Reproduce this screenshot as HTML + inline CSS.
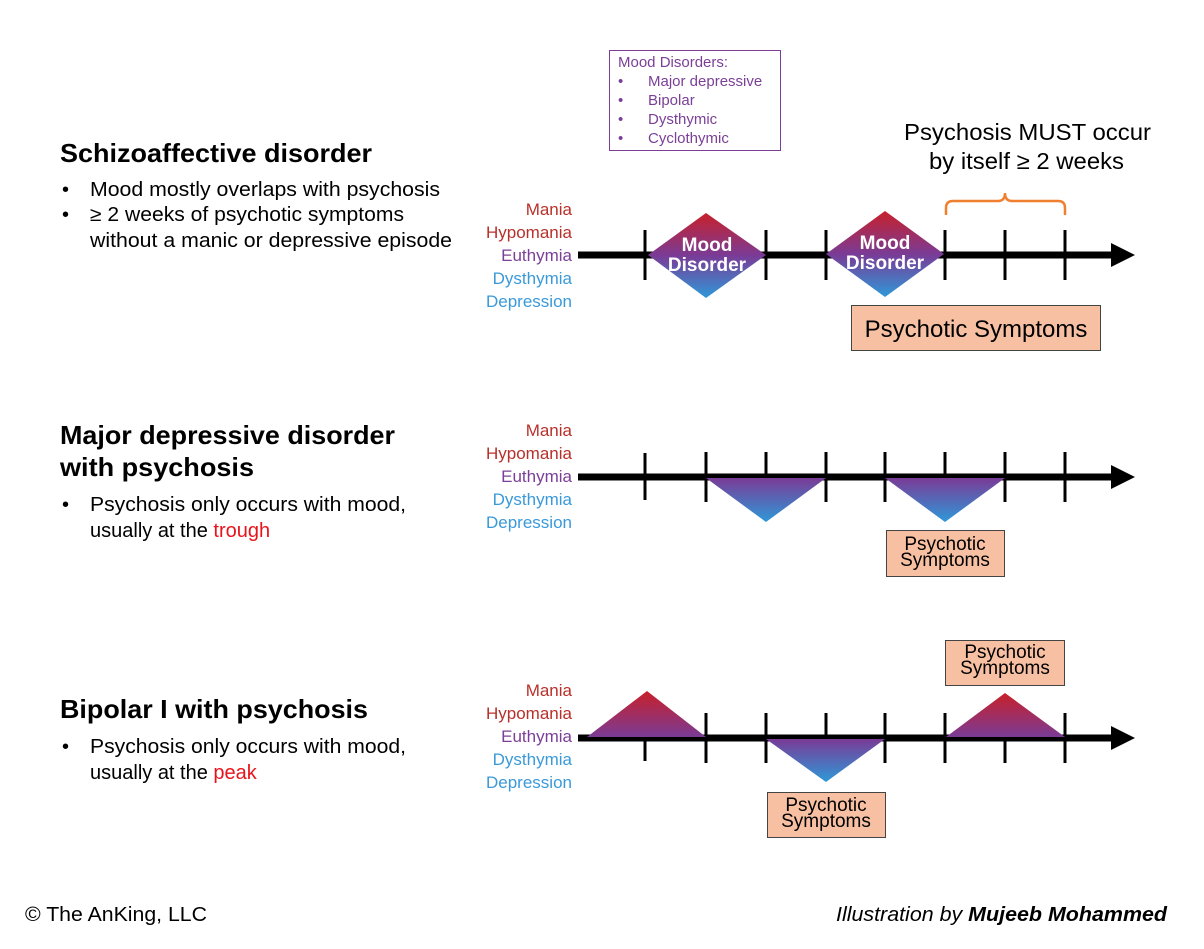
<!DOCTYPE html>
<html><head><meta charset="utf-8"><style>
html,body{margin:0;padding:0;background:#fff;}
svg{display:block;font-family:"Liberation Sans",Arial,sans-serif;}
</style></head><body>
<svg width="1204" height="949" viewBox="0 0 1204 949" xmlns="http://www.w3.org/2000/svg">
<defs>
<linearGradient id="gd" x1="0" y1="0" x2="0" y2="1">
<stop offset="0" stop-color="#c8202a"/><stop offset="0.5" stop-color="#7a3b96"/><stop offset="1" stop-color="#2f98d8"/></linearGradient>
<linearGradient id="gu" x1="0" y1="0" x2="0" y2="1">
<stop offset="0" stop-color="#c8202a"/><stop offset="1" stop-color="#7a3b96"/></linearGradient>
<linearGradient id="gdn" x1="0" y1="0" x2="0" y2="1">
<stop offset="0" stop-color="#7a3b96"/><stop offset="1" stop-color="#2f98d8"/></linearGradient>
</defs>

<g fill="#000" lengthAdjust="spacingAndGlyphs">
<text x="60" y="162" font-size="26" font-weight="bold" textLength="312" lengthAdjust="spacingAndGlyphs">Schizoaffective disorder</text>
<text x="62" y="196" font-size="20">•</text><text x="90" y="196" font-size="20" textLength="350" lengthAdjust="spacingAndGlyphs">Mood mostly overlaps with psychosis</text>
<text x="62" y="221" font-size="20">•</text><text x="90" y="221" font-size="20" textLength="314" lengthAdjust="spacingAndGlyphs">≥ 2 weeks of psychotic symptoms</text>
<text x="90" y="247" font-size="20" textLength="362" lengthAdjust="spacingAndGlyphs">without a manic or depressive episode</text>

<text x="60" y="444" font-size="26" font-weight="bold" textLength="335" lengthAdjust="spacingAndGlyphs">Major depressive disorder</text>
<text x="60" y="476" font-size="26" font-weight="bold" textLength="194" lengthAdjust="spacingAndGlyphs">with psychosis</text>
<text x="62" y="511" font-size="20">•</text><text x="90" y="511" font-size="20" textLength="316" lengthAdjust="spacingAndGlyphs">Psychosis only occurs with mood,</text>
<text x="90" y="537" font-size="20">usually at the <tspan fill="#e8141c">trough</tspan></text>

<text x="60" y="718" font-size="26" font-weight="bold" textLength="308" lengthAdjust="spacingAndGlyphs">Bipolar I with psychosis</text>
<text x="62" y="753" font-size="20">•</text><text x="90" y="753" font-size="20" textLength="316" lengthAdjust="spacingAndGlyphs">Psychosis only occurs with mood,</text>
<text x="90" y="779" font-size="20">usually at the <tspan fill="#e8141c">peak</tspan></text>

<text x="25" y="921" font-size="20" textLength="182" lengthAdjust="spacingAndGlyphs">© The AnKing,  LLC</text>
<text x="836" y="921" font-size="20" font-style="italic" textLength="331" lengthAdjust="spacingAndGlyphs">Illustration by <tspan font-weight="bold">Mujeeb Mohammed</tspan></text>
</g>

<rect x="609.5" y="50.5" width="171" height="100" fill="#fff" stroke="#7b3f98" stroke-width="1"/>
<g fill="#7b3f98" font-size="15">
<text x="618" y="67">Mood Disorders:</text>
<text x="618" y="86">•</text><text x="648" y="86">Major depressive</text>
<text x="618" y="105">•</text><text x="648" y="105">Bipolar</text>
<text x="618" y="124">•</text><text x="648" y="124">Dysthymic</text>
<text x="618" y="143">•</text><text x="648" y="143">Cyclothymic</text>
</g>

<text x="904" y="140" font-size="23" textLength="247" lengthAdjust="spacingAndGlyphs">Psychosis MUST occur</text>
<text x="929" y="169" font-size="23" textLength="195" lengthAdjust="spacingAndGlyphs">by itself ≥ 2 weeks</text>
<path d="M946 215 V208 Q946 201 953 201 H998 Q1005 201 1005 193 Q1005 201 1012 201 H1058 Q1065 201 1065 208 V215" fill="none" stroke="#f08030" stroke-width="2.5"/>

<g font-size="17" text-anchor="end">
<g>
<text x="572" y="215" fill="#b8302a">Mania</text>
<text x="572" y="238" fill="#b8302a">Hypomania</text>
<text x="572" y="261" fill="#7b3f98">Euthymia</text>
<text x="572" y="284" fill="#3a9ad9">Dysthymia</text>
<text x="572" y="307" fill="#3a9ad9">Depression</text>
</g>
<g transform="translate(0,221)">
<text x="572" y="215" fill="#b8302a">Mania</text>
<text x="572" y="238" fill="#b8302a">Hypomania</text>
<text x="572" y="261" fill="#7b3f98">Euthymia</text>
<text x="572" y="284" fill="#3a9ad9">Dysthymia</text>
<text x="572" y="307" fill="#3a9ad9">Depression</text>
</g>
<g transform="translate(0,481)">
<text x="572" y="215" fill="#b8302a">Mania</text>
<text x="572" y="238" fill="#b8302a">Hypomania</text>
<text x="572" y="261" fill="#7b3f98">Euthymia</text>
<text x="572" y="284" fill="#3a9ad9">Dysthymia</text>
<text x="572" y="307" fill="#3a9ad9">Depression</text>
</g>
</g>

<line x1="578" y1="255" x2="1115" y2="255" stroke="#000" stroke-width="7"/>
<polygon points="1111,243 1135,255 1111,267" fill="#000"/>
<g stroke="#000" stroke-width="3">
<line x1="645" y1="230" x2="645" y2="280"/><line x1="766" y1="230" x2="766" y2="280"/>
<line x1="826" y1="230" x2="826" y2="280"/><line x1="945" y1="230" x2="945" y2="280"/>
<line x1="1005" y1="230" x2="1005" y2="280"/><line x1="1065" y1="230" x2="1065" y2="280"/>
</g>
<polygon points="706,213 766,255 706,298 648,255" fill="url(#gd)"/>
<polygon points="885,211 944,254 885,297 826,254" fill="url(#gd)"/>
<g fill="#fff" font-size="19" font-weight="bold" text-anchor="middle">
<text x="707" y="251">Mood</text><text x="707" y="271">Disorder</text>
<text x="885" y="249">Mood</text><text x="885" y="269">Disorder</text>
</g>
<rect x="851.5" y="305.5" width="249" height="45" fill="#f8c0a2" stroke="#444" stroke-width="1"/>
<text x="976" y="337" font-size="24" text-anchor="middle">Psychotic Symptoms</text>

<line x1="578" y1="477" x2="1115" y2="477" stroke="#000" stroke-width="7"/>
<polygon points="1111,465 1135,477 1111,489" fill="#000"/>
<g stroke="#000" stroke-width="3">
<line x1="645" y1="453" x2="645" y2="500"/><line x1="706" y1="452" x2="706" y2="502"/>
<line x1="766" y1="452" x2="766" y2="502"/><line x1="826" y1="452" x2="826" y2="502"/>
<line x1="885" y1="452" x2="885" y2="502"/><line x1="945" y1="452" x2="945" y2="502"/>
<line x1="1005" y1="452" x2="1005" y2="502"/><line x1="1065" y1="452" x2="1065" y2="502"/>
</g>
<polygon points="706,478 826,478 766,522" fill="url(#gdn)"/>
<polygon points="885,478 1005,478 945,522" fill="url(#gdn)"/>
<rect x="886.5" y="530.5" width="118" height="46" fill="#f8c0a2" stroke="#444" stroke-width="1"/>
<text x="945" y="550" font-size="19" text-anchor="middle">Psychotic</text>
<text x="945" y="566" font-size="19" text-anchor="middle">Symptoms</text>

<line x1="578" y1="738" x2="1115" y2="738" stroke="#000" stroke-width="7"/>
<polygon points="1111,726 1135,738 1111,750" fill="#000"/>
<g stroke="#000" stroke-width="3">
<line x1="645" y1="738" x2="645" y2="761"/><line x1="706" y1="713" x2="706" y2="763"/>
<line x1="766" y1="713" x2="766" y2="763"/><line x1="826" y1="713" x2="826" y2="738"/>
<line x1="885" y1="713" x2="885" y2="763"/><line x1="945" y1="713" x2="945" y2="763"/>
<line x1="1005" y1="738" x2="1005" y2="763"/><line x1="1065" y1="713" x2="1065" y2="763"/>
</g>
<polygon points="587,737 647,691 706,737" fill="url(#gu)"/>
<polygon points="766,739 885,739 826,782" fill="url(#gdn)"/>
<polygon points="946,737 1005,693 1065,737" fill="url(#gu)"/>
<rect x="767.5" y="792.5" width="118" height="45" fill="#f8c0a2" stroke="#444" stroke-width="1"/>
<text x="826" y="811" font-size="19" text-anchor="middle">Psychotic</text>
<text x="826" y="827" font-size="19" text-anchor="middle">Symptoms</text>
<rect x="945.5" y="640.5" width="119" height="45" fill="#f8c0a2" stroke="#444" stroke-width="1"/>
<text x="1005" y="658" font-size="19" text-anchor="middle">Psychotic</text>
<text x="1005" y="674" font-size="19" text-anchor="middle">Symptoms</text>
</svg>
</body></html>
